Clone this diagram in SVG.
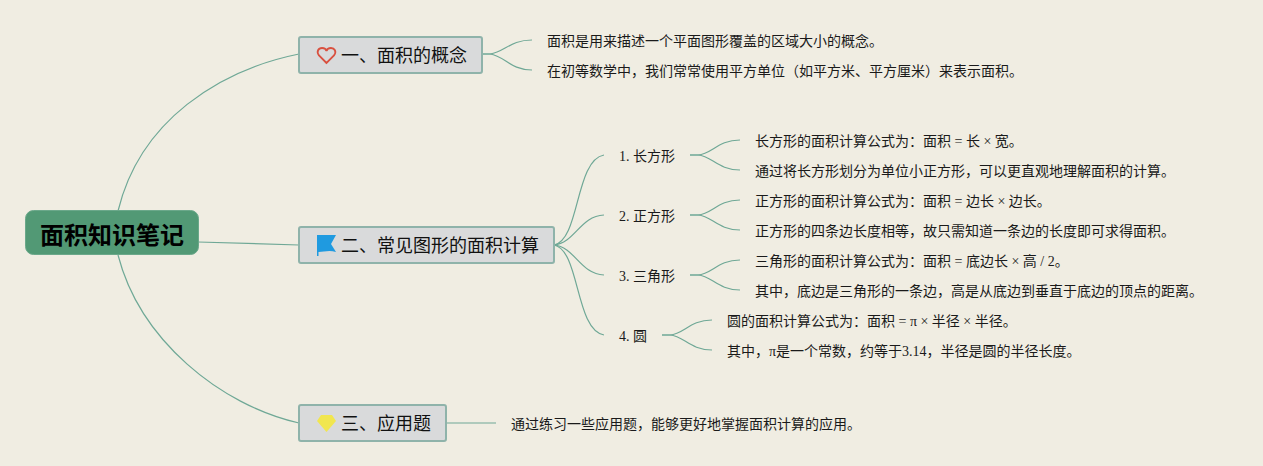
<svg xmlns="http://www.w3.org/2000/svg" width="1263" height="466" viewBox="0 0 1263 466">
<style>
text{font-family:"Liberation Serif","Noto Sans CJK SC",serif;fill:#111}
.t{font-size:14px;fill:#1a1a1a}
.b{font-size:14px;fill:#1a1a1a}
.m{font-family:"Noto Sans CJK SC","Liberation Sans",sans-serif;font-size:18px}
.box{fill:#d9dadb;stroke:#8fb3aa;stroke-width:2}
.c{fill:none;stroke:#6fa896;stroke-width:1.2}
</style>
<rect width="1263" height="466" fill="#f0ede2"/>
<g id="connectors">
<path class="c" d="M118 211C140 120 220 70 299 54"/>
<path class="c" d="M198 242L299 245"/>
<path class="c" d="M118 255C140 340 220 405 299 423"/>
<path class="c" d="M482 54H490C505 52 510 40 532 40"/>
<path class="c" d="M482 54H490C505 56 510 70 532 70"/>
<path class="c" d="M446 423H496"/>
<path class="c" d="M554 245C580 240 575 160 604 155"/>
<path class="c" d="M554 245C575 243 580 216 604 215"/>
<path class="c" d="M554 245C575 247 580 274 604 275"/>
<path class="c" d="M554 245C580 250 575 330 604 335"/>
<path class="c" d="M690 155H698C712 154 718 140 740 140"/>
<path class="c" d="M690 155H698C712 156 718 170 740 170"/>
<path class="c" d="M690 215H698C712 214 718 200 740 200"/>
<path class="c" d="M690 215H698C712 216 718 230 740 230"/>
<path class="c" d="M690 275H698C712 274 718 260 740 260"/>
<path class="c" d="M690 275H698C712 276 718 290 740 290"/>
<path class="c" d="M662 335H670C684 334 690 320 712 320"/>
<path class="c" d="M662 335H670C684 336 690 350 712 350"/>
</g>
<g id="root"><rect x="25.500" y="210.500" width="173" height="44" rx="8" fill="#529975" stroke="#6ba88a"/><text x="112" y="244" text-anchor="middle" style="font-family:'Noto Sans CJK SC',sans-serif;font-size:24px;font-weight:700;fill:#000">面积知识笔记</text></g>
<g id="topic1"><rect class="box" x="299" y="37" width="183" height="36" rx="2"/><path d="M326.500 63L319 55.500C316 51.500 318.500 48 322 48C324 48 326 49 326.500 51C327 49 329 48 331 48C334.500 48 337 51.500 334 55.500Z" fill="none" stroke="#d9503f" stroke-width="1.800"/><text class="m" x="341" y="62">一、面积的概念</text></g>
<g id="topic2"><rect class="box" x="299" y="227" width="255" height="36" rx="2"/><path d="M317 235H336L331 244L336 252C329 250 324 252 318.500 252V256H317Z" fill="#1f9ae0"/><text class="m" x="341" y="252">二、常见图形的面积计算</text></g>
<g id="topic3"><rect class="box" x="299" y="405" width="147" height="36" rx="2"/><path d="M321 415H332L336 421L326.500 432L317 421Z" fill="#f1e64f"/><text class="m" x="341" y="430">三、应用题</text></g>
<g id="n1"><text class="b" x="547" y="46">面积是用来描述一个平面图形覆盖的区域大小的概念。</text></g>
<g id="n2"><text class="b" x="547" y="76">在初等数学中，我们常常使用平方单位（如平方米、平方厘米）来表示面积。</text></g>
<g id="s1"><text class="t" x="619" y="161">1. 长方形</text></g>
<g id="s2"><text class="t" x="619" y="221">2. 正方形</text></g>
<g id="s3"><text class="t" x="619" y="281">3. 三角形</text></g>
<g id="s4"><text class="t" x="619" y="341">4. 圆</text></g>
<g id="d1"><text class="b" x="755" y="146">长方形的面积计算公式为：面积 = 长 × 宽。</text></g>
<g id="d2"><text class="b" x="755" y="176">通过将长方形划分为单位小正方形，可以更直观地理解面积的计算。</text></g>
<g id="d3"><text class="b" x="755" y="206">正方形的面积计算公式为：面积 = 边长 × 边长。</text></g>
<g id="d4"><text class="b" x="755" y="236">正方形的四条边长度相等，故只需知道一条边的长度即可求得面积。</text></g>
<g id="d5"><text class="b" x="755" y="266">三角形的面积计算公式为：面积 = 底边长 × 高 / 2。</text></g>
<g id="d6"><text class="b" x="755" y="296">其中，底边是三角形的一条边，高是从底边到垂直于底边的顶点的距离。</text></g>
<g id="d7"><text class="b" x="727" y="326">圆的面积计算公式为：面积 = π × 半径 × 半径。</text></g>
<g id="d8"><text class="b" x="727" y="356">其中，π是一个常数，约等于3.14，半径是圆的半径长度。</text></g>
<g id="n3"><text class="b" x="511" y="429">通过练习一些应用题，能够更好地掌握面积计算的应用。</text></g>
</svg>
